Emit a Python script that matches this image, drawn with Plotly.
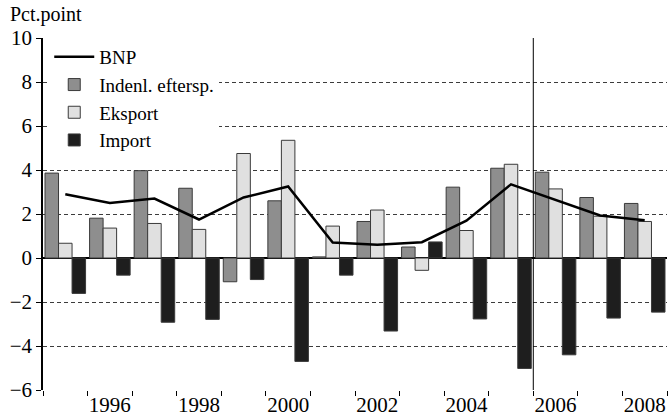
import plotly.graph_objects as go

years = list(range(1995, 2009))
bnp = [2.9, 2.5, 2.7, 1.75, 2.75, 3.25, 0.7, 0.6, 0.72, 1.7, 3.35, 2.65, 1.93, 1.72]
indenl = [3.86, 1.81, 3.97, 3.17, -1.08, 2.6, 0.05, 1.66, 0.5, 3.22, 4.08, 3.9, 2.75, 2.48]
eksport = [0.67, 1.36, 1.57, 1.3, 4.75, 5.35, 1.45, 2.18, -0.56, 1.25, 4.26, 3.14, 1.9, 1.66]
importq = [-1.61, -0.78, -2.92, -2.79, -0.98, -4.7, -0.78, -3.32, 0.73, -2.77, -5.02, -4.4, -2.73, -2.46]

label_years = [1996, 1998, 2000, 2002, 2004, 2006, 2008]
forecast_start = 2005.5

FONT = "Liberation Serif"
outline = dict(color="#3a3a3a", width=1)

fig = go.Figure()
fig.add_trace(go.Bar(x=years, y=indenl, name="Indenl. eftersp.", legendrank=2,
                     marker=dict(color="#8e8e8e", line=outline)))
fig.add_trace(go.Bar(x=years, y=eksport, name="Eksport", legendrank=3,
                     marker=dict(color="#e0e0e0", line=outline)))
fig.add_trace(go.Bar(x=years, y=importq, name="Import", legendrank=4,
                     marker=dict(color="#1e1e1e", line=outline)))
fig.add_trace(go.Scatter(x=years, y=bnp, name="BNP", mode="lines", legendrank=1,
                         line=dict(color="black", width=2.5)))

fig.add_shape(type="line", xref="x", yref="paper",
              x0=forecast_start, x1=forecast_start, y0=0, y1=1,
              line=dict(color="black", width=1))

fig.add_annotation(text="Pct.point", xref="paper", yref="paper",
                   x=0, y=1, xshift=-35, yshift=10, xanchor="left", yanchor="bottom",
                   showarrow=False, font=dict(family=FONT, size=20, color="black"))

boundaries = [y - 0.5 for y in years] + [years[-1] + 0.5]

fig.update_layout(
    width=670, height=420,
    margin=dict(l=43, r=3, t=38, b=28),
    paper_bgcolor="white", plot_bgcolor="white",
    barmode="group", bargap=0.09, bargroupgap=0,
    font=dict(family=FONT, size=20, color="black"),
    legend=dict(x=0.01, y=1.0, xanchor="left", yanchor="top",
                traceorder="normal", bgcolor="white",
                font=dict(family=FONT, size=19, color="black"),
                tracegroupgap=0, itemwidth=40),
    xaxis=dict(range=[years[0] - 0.5, years[-1] + 0.5],
               tickvals=label_years, ticktext=[str(y) for y in label_years],
               ticks="", showgrid=False, zeroline=False,
               showline=False,
               minor=dict(tickvals=boundaries, ticks="outside", ticklen=5,
                          tickcolor="black", showgrid=False),
               tickfont=dict(family=FONT, size=21)),
    yaxis=dict(range=[-6, 10], dtick=2, ticks="outside", ticklen=5,
               tickcolor="black", showline=True, linecolor="black", linewidth=1.5,
               showgrid=True, gridcolor="#3c3c3c", griddash="4px,3px", gridwidth=1,
               zeroline=True, zerolinecolor="black", zerolinewidth=1.5,
               tickfont=dict(family=FONT, size=21)),
)

fig.write_html("out.html")
